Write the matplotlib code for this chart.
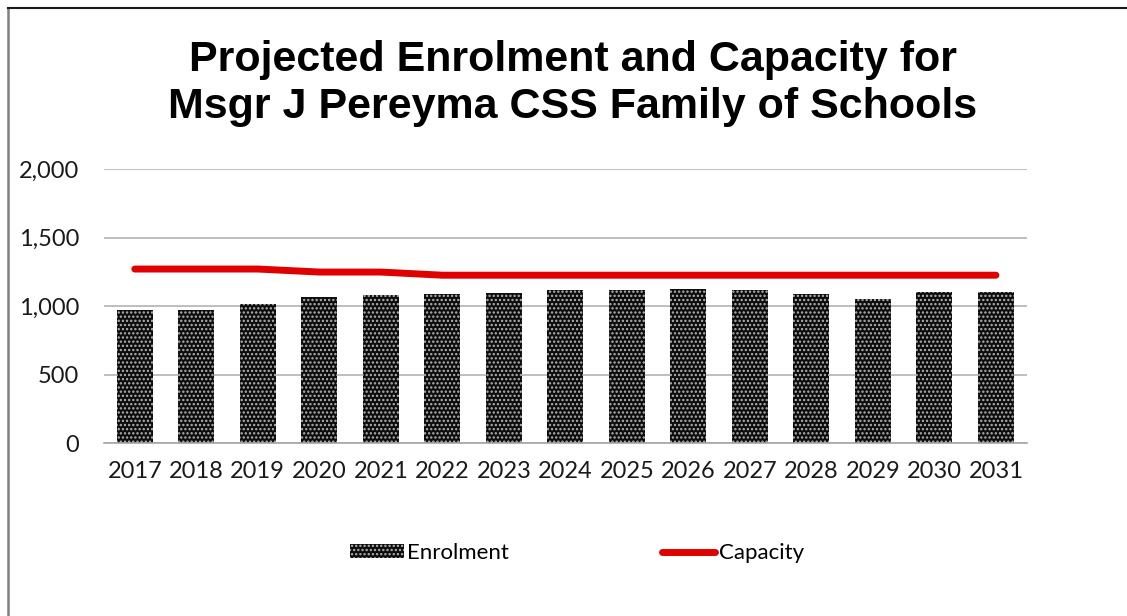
import matplotlib.pyplot as plt
from matplotlib.lines import Line2D
from matplotlib.ticker import FuncFormatter

# ==========================================================
# DATA
# ==========================================================

years = ["2017", "2018", "2019", "2020", "2021", "2022", "2023", "2024",
         "2025", "2026", "2027", "2028", "2029", "2030", "2031"]

enrolment = [973, 973, 1017, 1068, 1082, 1090, 1097, 1119,
             1119, 1126, 1119, 1090, 1053, 1104, 1104]

capacity = [1270, 1270, 1270, 1248, 1248, 1225, 1225, 1225,
            1225, 1225, 1225, 1225, 1225, 1225, 1225]

title_text = "Projected Enrolment and Capacity for\nMsgr J Pereyma CSS Family of Schools"

# ==========================================================
# FIGURE
# ==========================================================

plt.rcParams["hatch.linewidth"] = 1.1

fig = plt.figure(figsize=(11.27, 6.16), dpi=100)
ax = fig.add_axes([0.0923, 0.2808, 0.8187, 0.4448])

x = list(range(len(years)))

bars = ax.bar(
    x,
    enrolment,
    width=0.585,
    color="#0d0d0d",
    edgecolor="#b5b5b5",
    linewidth=0,
    hatch="....",
    label="Enrolment",
    zorder=2
)

line, = ax.plot(
    x,
    capacity,
    color="#e00000",
    linewidth=5,
    solid_capstyle="round",
    label="Capacity",
    zorder=3
)

ax.set_xlim(-0.5, len(years) - 0.5)
ax.set_ylim(0, 2000)
ax.set_yticks([0, 500, 1000, 1500, 2000])
ax.yaxis.set_major_formatter(FuncFormatter(lambda v, p: f"{int(v):,}"))
ax.set_xticks(x)
ax.set_xticklabels(years)

ax.grid(axis="y", color="#b3b3b3", linewidth=1.2, zorder=0)
ax.set_axisbelow(True)

for s in ["top", "right", "left"]:
    ax.spines[s].set_visible(False)
ax.spines["bottom"].set_color("#a6a6a6")
ax.spines["bottom"].set_linewidth(1.2)

ax.tick_params(axis="both", length=0, labelsize=17, colors="#1a1a1a")
ax.tick_params(axis="y", pad=18)
ax.tick_params(axis="x", pad=13)
for lab in ax.get_xticklabels() + ax.get_yticklabels():
    lab.set_fontfamily("Lato")

fig.text(
    0.508, 0.865,
    title_text,
    ha="center",
    va="center",
    fontsize=31,
    fontweight="bold",
    family="Liberation Sans",
    linespacing=1.22
)

leg = fig.legend(
    handles=[bars, line],
    labels=["Enrolment", "Capacity"],
    loc="center",
    bbox_to_anchor=(0.512, 0.102),
    ncol=2,
    frameon=False,
    prop={"family": "Lato", "size": 16},
    handlelength=2.4,
    handleheight=0.6,
    handletextpad=0.15,
    columnspacing=6.9
)

# chart border (left and top only)
fig.add_artist(Line2D([0.0075, 0.0075], [0, 0.987], transform=fig.transFigure,
                      color="#808080", linewidth=1.8))
fig.add_artist(Line2D([0.0075, 1], [0.987, 0.987], transform=fig.transFigure,
                      color="#1a1a1a", linewidth=1.5))

plt.savefig("out.png", dpi=100)
plt.close()
